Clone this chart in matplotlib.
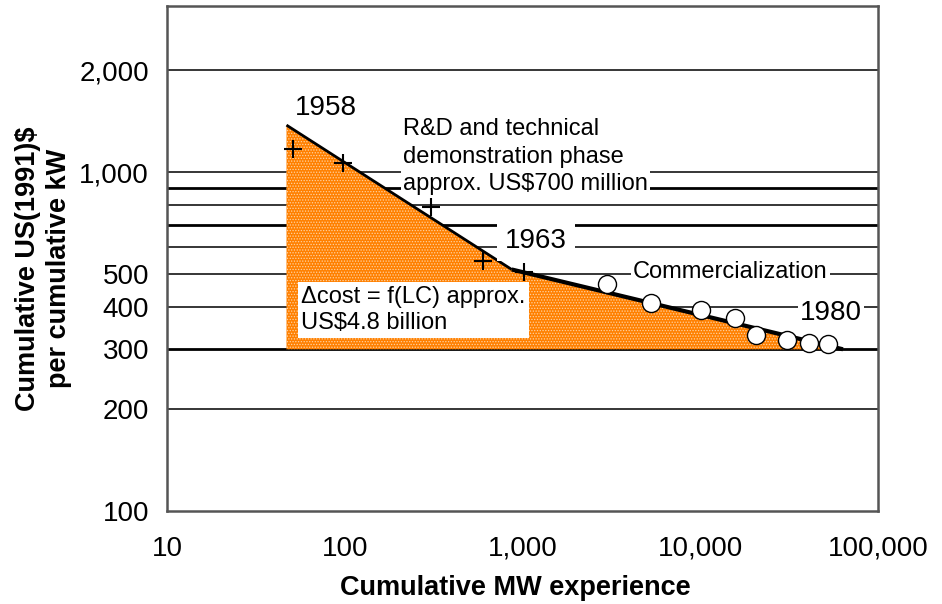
import numpy as np
import matplotlib
import matplotlib.pyplot as plt
from matplotlib.ticker import FixedLocator, NullLocator, NullFormatter

matplotlib.use('Agg')
plt.rcParams['font.family'] = ['Liberation Sans', 'DejaVu Sans']
plt.rcParams['hatch.linewidth'] = 0.6

# learning curve envelope: start of R&D, kink at 1963, end of commercial phase
curve_x = [47, 869, 63500]
curve_y = [1376, 516, 300]
floor_cost = 300

# R&D / demonstration plants (crosses)
rd_x = [51, 98, 306, 597, 1019]
rd_y = [1170, 1065, 790, 547, 507]

# commercial phase (open circles)
comm_x = [3000, 5260, 10070, 15700, 20600, 30900, 41100, 52100]
comm_y = [468, 411, 391, 370, 330, 319, 313, 312]

grid_levels = [200, 300, 400, 500, 600, 700, 800, 900, 1000, 2000]
heavy_levels = [300, 700, 900]

x_ticks = [10, 100, 1000, 10000, 100000]
x_labels = ['10', '100', '1,000', '10,000', '100,000']
y_ticks = [100, 200, 300, 400, 500, 1000, 2000]
y_labels = ['100', '200', '300', '400', '500', '1,000', '2,000']

fig = plt.figure(figsize=(9.42, 6.04), dpi=100)
ax = fig.add_axes([0.1773, 0.154, 0.7548, 0.836])
ax.set_xscale('log')
ax.set_yscale('log')
ax.set_xlim(10, 100000)
ax.set_ylim(100, 3090)

for lev in grid_levels:
    lw = 2.0 if lev in heavy_levels else 1.1
    ax.axhline(lev, color='black', lw=lw, zorder=1)

# shaded area between learning curve and floor cost
ax.fill_between(curve_x, curve_y, floor_cost, facecolor='#FF8000',
                edgecolor='#FFD2A0', hatch='......', linewidth=0, zorder=2)
ax.plot(curve_x[:2], curve_y[:2], color='black', lw=2.0, zorder=3,
        solid_capstyle='butt')
ax.plot(curve_x[1:], curve_y[1:], color='black', lw=3.0, zorder=3,
        solid_capstyle='butt')

ax.plot(rd_x, rd_y, linestyle='none', marker='+', markersize=13,
        markeredgewidth=1.5, color='black', zorder=4)
ax.plot(comm_x, comm_y, linestyle='none', marker='o', markersize=13,
        markerfacecolor='white', markeredgecolor='black',
        markeredgewidth=1.0, zorder=4)

box = dict(facecolor='white', edgecolor='none', pad=1.5)
ax.text(52.5, 1470, '1958', fontsize=20, va='baseline', zorder=5)
ax.text(213, 1440, 'R&D and technical\ndemonstration phase\napprox. US$700 million',
        fontsize=17, va='top', linespacing=1.3, bbox=box, zorder=5)
ax.text(798, 628, '1963', fontsize=20, va='center', zorder=5,
        bbox=dict(facecolor='white', edgecolor='none',
                  boxstyle='square,pad=0.28'))
ax.text(4190, 507, 'Commercialization', fontsize=17, va='center',
        bbox=box, zorder=5)
ax.text(36400, 384, '1980', fontsize=20, va='center', bbox=box, zorder=5)
ax.text(56.8, 462, '\u0394cost = f(LC) approx.\nUS$4.8 billion', fontsize=17,
        va='top', linespacing=1.28,
        bbox=dict(facecolor='white', edgecolor='none', pad=2.5), zorder=5)

ax.set_xticks(x_ticks)
ax.set_xticklabels(x_labels)
ax.set_yticks(y_ticks)
ax.set_yticklabels(y_labels)
ax.xaxis.set_minor_locator(FixedLocator([100, 1000, 10000]))
ax.xaxis.set_minor_formatter(NullFormatter())
ax.yaxis.set_minor_locator(NullLocator())
ax.tick_params(axis='x', which='major', length=0, pad=18, labelsize=20)
ax.tick_params(axis='x', which='minor', length=9, width=1.5,
               direction='out', color='black')
ax.tick_params(axis='y', which='major', length=0, pad=13, labelsize=20)

ax.set_xlabel('Cumulative MW experience', fontsize=19.5, fontweight='bold')
ax.xaxis.set_label_coords(0.49, -0.127)
ax.set_ylabel('Cumulative US(1991)$\nper cumulative kW', fontsize=19.5,
              fontweight='bold', linespacing=1.25)
ax.yaxis.set_label_coords(-0.134, 0.48)

for side in ax.spines.values():
    side.set_color('#555555')
    side.set_linewidth(1.8)

fig.savefig('out.png', dpi=100)
